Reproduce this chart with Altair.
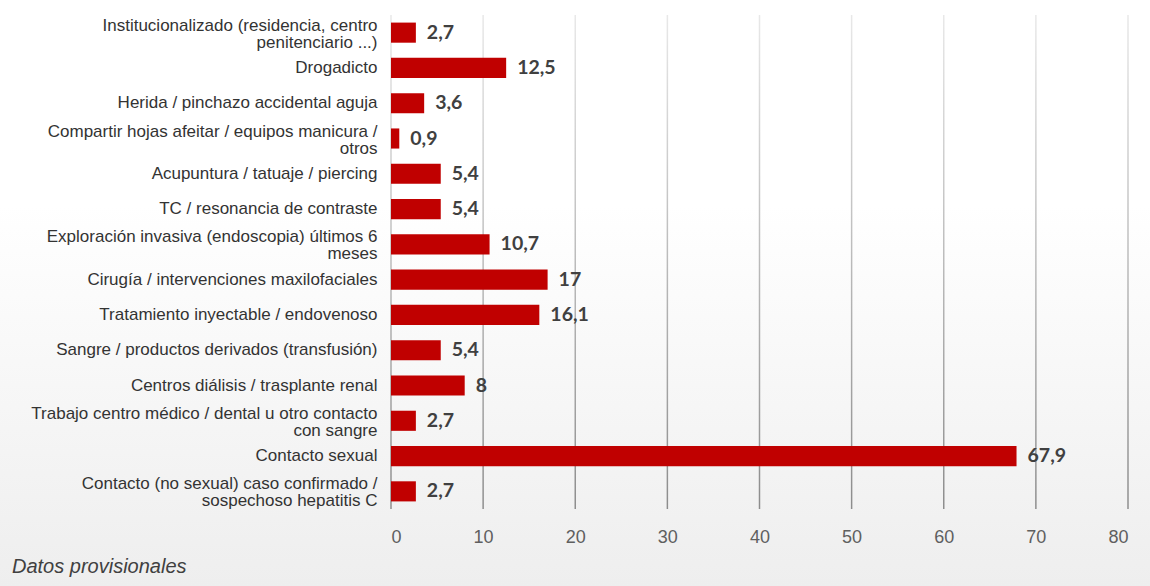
import altair as alt
import pandas as pd

categorias = [
    "Institucionalizado (residencia, centro|penitenciario ...)",
    "Drogadicto",
    "Herida / pinchazo accidental aguja",
    "Compartir hojas afeitar / equipos manicura /|otros",
    "Acupuntura / tatuaje / piercing",
    "TC / resonancia de contraste",
    "Exploración invasiva (endoscopia) últimos 6|meses",
    "Cirugía / intervenciones maxilofaciales",
    "Tratamiento inyectable / endovenoso",
    "Sangre / productos derivados (transfusión)",
    "Centros diálisis / trasplante renal",
    "Trabajo centro médico / dental u  otro contacto|con sangre",
    "Contacto sexual",
    "Contacto (no sexual) caso confirmado /|sospechoso hepatitis C",
]
valores = [2.7, 12.5, 3.6, 0.9, 5.4, 5.4, 10.7, 17, 16.1, 5.4, 8, 2.7, 67.9, 2.7]
ticks = [0, 10, 20, 30, 40, 50, 60, 70, 80]
nota = ["Datos provisionales"]

W, H = 737, 494
PL, PT = 391, 15
TOTAL_W, TOTAL_H = 1150, 586

df = pd.DataFrame({"cat": categorias, "valor": valores})
df_ticks = pd.DataFrame({"t": ticks})
df_one = pd.DataFrame({"a": [0]})
df_nota = pd.DataFrame({"txt": nota})

xscale = alt.Scale(domain=[0, 80], nice=False, zero=True)

fondo = alt.Chart(df_one).mark_rect(
    color=alt.Gradient(
        gradient="linear",
        stops=[
            alt.GradientStop(color="#ffffff", offset=0),
            alt.GradientStop(color="#ffffff", offset=0.35),
            alt.GradientStop(color="#eeeeee", offset=1),
        ],
        x1=0, x2=0, y1=0, y2=1,
    )
).encode(
    x=alt.value(-PL), x2=alt.value(TOTAL_W - PL),
    y=alt.value(-PT), y2=alt.value(TOTAL_H - PT),
)

rejilla = alt.Chart(df_ticks).transform_calculate(
    a="datum.t - 0.08", b="datum.t + 0.08"
).mark_rect(
    color=alt.Gradient(
        gradient="linear",
        stops=[
            alt.GradientStop(color="#e8e8e8", offset=0),
            alt.GradientStop(color="#8c8c8c", offset=1),
        ],
        x1=0, x2=0, y1=0, y2=1,
    )
).encode(
    x=alt.X("a:Q", scale=xscale, axis=alt.Axis(
        values=ticks, grid=False, ticks=False, domain=False,
        labelFont="Liberation Sans", labelFontSize=18, labelColor="#5f5f5f",
        labelPadding=19, title=None, zindex=1,
    )),
    x2="b:Q",
    y=alt.value(0), y2=alt.value(H),
)

barras = alt.Chart(df).mark_bar(color="#C00000").encode(
    x=alt.X("valor:Q", scale=xscale),
    y=alt.Y("cat:N", sort=categorias,
            scale=alt.Scale(paddingInner=0.43, paddingOuter=0.215),
            axis=alt.Axis(
                title=None, ticks=False, domain=False, grid=False,
                labelExpr="split(datum.label, '|')",
                labelOffset={"condition": {"test": "indexof(datum.label, '|') >= 0", "value": -7}, "value": 0},
                labelFont="Liberation Sans", labelFontSize=17,
                labelColor="#333333", labelPadding=14,
                labelLineHeight=17, labelLimit=400, zindex=1,
            )),
)

etiquetas = alt.Chart(df).transform_calculate(
    lab="replace(toString(datum.valor), '.', ',')"
).mark_text(
    align="left", baseline="middle", dx=11, fontWeight="bold",
    font="Lato", fontSize=19.5, color="#404040",
).encode(
    x=alt.X("valor:Q", scale=xscale),
    y=alt.Y("cat:N", sort=categorias),
    text="lab:N",
)

texto_nota = alt.Chart(df_nota).mark_text(
    align="left", baseline="middle", font="Liberation Sans",
    fontSize=20, fontStyle="italic", color="#404040",
).encode(
    x=alt.value(12 - PL), y=alt.value(567 - PT), text="txt:N",
)

chart = alt.layer(fondo, rejilla, barras, etiquetas, texto_nota).properties(
    width=W, height=H,
    padding={"left": PL, "top": PT, "right": TOTAL_W - PL - W, "bottom": TOTAL_H - PT - H},
    autosize="none",
).configure_view(stroke=None).configure(background="#ffffff")

chart.save("out.html", embed_options={"renderer": "svg", "actions": False})
